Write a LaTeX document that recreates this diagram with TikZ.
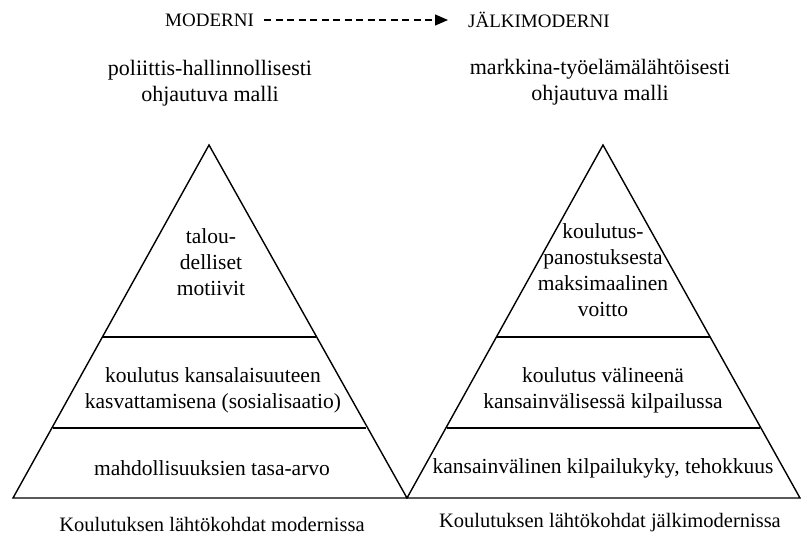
\documentclass[tikz,border=0pt]{standalone}
\usepackage{fontspec}
\setmainfont{Liberation Serif}
\newfontfamily\timesfont{Liberation Serif}
\usetikzlibrary{arrows.meta}
\begin{document}
\begin{tikzpicture}[x=1pt,y=-1pt,
  txt/.style={inner sep=0pt,align=center,font=\timesfont\fontsize{21.5}{26}\selectfont},
  head/.style={inner sep=0pt,font=\timesfont\fontsize{19}{23}\selectfont},
  captext/.style={inner sep=0pt,font=\timesfont\fontsize{20.5}{24}\selectfont},
  edge/.style={line width=1.4pt,line join=miter},
  flow/.style={line width=1.2pt,dash pattern=on 7pt off 4.5pt,-{Triangle[length=13pt,width=11pt]}}]
\useasboundingbox (0,0) rectangle (806,539);

% heading row
\node[head,anchor=west] (mod) at (165,20) {MODERNI};
\node[head,anchor=west] (post) at (468,20) {JÄLKIMODERNI};
\draw[flow] ([xshift=10pt]mod.east) -- ([xshift=-20pt]post.west);

% steering models
\node[txt,font=\timesfont\fontsize{22}{26}\selectfont] (ml) at (210,83) {poliittis-hallinnollisesti\\ohjautuva malli};
\node[txt,font=\timesfont\fontsize{22}{26}\selectfont] (mr) at (600,82) {markkina-työelämälähtöisesti\\ohjautuva malli};

% left pyramid
\coordinate (la) at (209,145);
\coordinate (lb) at (13,498);
\coordinate (lc) at (407,498);
\draw[edge] (lb) -- (la) -- (lc) -- cycle;
\draw[edge] (103,337) -- (316,337);
\draw[edge] (53,428) -- (366,428);
\node[txt] (l1) at (211,262) {talou-\\delliset\\motiivit};
\node[txt] (l2) at (213,390) {koulutus kansalaisuuteen\\kasvattamisena (sosialisaatio)};
\node[txt] (l3) at (212,468) {mahdollisuuksien tasa-arvo};

% right pyramid
\coordinate (ra) at (603,145);
\coordinate (rb) at (407,498);
\coordinate (rc) at (800,498);
\draw[edge] (rb) -- (ra) -- (rc) -- cycle;
\draw[edge] (497,337) -- (710,337);
\draw[edge] (447,428) -- (760,428);
\node[txt] (r1) at (603,270) {koulutus-\\panostuksesta\\maksimaalinen\\voitto};
\node[txt] (r2) at (603,390) {koulutus välineenä\\kansainvälisessä kilpailussa};
\node[txt] (r3) at (603,468) {kansainvälinen kilpailukyky, tehokkuus};

% captions
\node[captext] (cl) at (212,524) {Koulutuksen lähtökohdat modernissa};
\node[captext] (cr) at (610,523) {Koulutuksen lähtökohdat jälkimodernissa};
\end{tikzpicture}
\end{document}
